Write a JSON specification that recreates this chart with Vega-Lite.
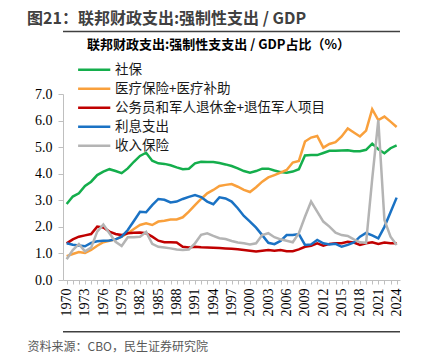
{
  "$schema": "https://vega.github.io/schema/vega-lite/v6.json",
  "width": 337,
  "height": 186,
  "autosize": {"type": "none"},
  "padding": {"left": 63, "top": 94, "right": 33, "bottom": 84},
  "background": "#ffffff",
  "config": {"view": {"stroke": null}},
  "title": {
    "text": "图21：联邦财政支出:强制性支出 / GDP",
    "anchor": "start",
    "frame": "group",
    "dx": -36,
    "offset": 4,
    "font": "Noto Sans CJK SC",
    "fontSize": 16,
    "fontWeight": "bold",
    "color": "#404040"
  },
  "layer": [
    {
      "data": {
        "values": [
          {"year": 1970, "社保": 2.86, "医疗保险+医疗补助": 0.90, "公务员和军人退休金+退伍军人项目": 1.38, "利息支出": 1.38, "收入保险": 0.78},
          {"year": 1971, "社保": 3.14, "医疗保险+医疗补助": 0.98, "公务员和军人退休金+退伍军人项目": 1.53, "利息支出": 1.33, "收入保险": 1.13},
          {"year": 1972, "社保": 3.26, "医疗保险+医疗补助": 1.05, "公务员和军人退休金+退伍军人项目": 1.63, "利息支出": 1.30, "收入保险": 1.35},
          {"year": 1973, "社保": 3.54, "医疗保险+医疗补助": 1.02, "公务员和军人退休金+退伍军人项目": 1.68, "利息支出": 1.27, "收入保险": 1.08},
          {"year": 1974, "社保": 3.70, "医疗保险+医疗补助": 1.13, "公务员和军人退休金+退伍军人项目": 1.73, "利息支出": 1.40, "收入保险": 1.22},
          {"year": 1975, "社保": 3.95, "医疗保险+医疗补助": 1.29, "公务员和军人退休金+退伍军人项目": 2.01, "利息支出": 1.46, "收入保险": 1.82},
          {"year": 1976, "社保": 4.08, "医疗保险+医疗补助": 1.42, "公务员和军人退休金+退伍军人项目": 1.98, "利息支出": 1.48, "收入保险": 2.09},
          {"year": 1977, "社保": 4.17, "医疗保险+医疗补助": 1.48, "公务员和军人退休金+退伍军人项目": 1.82, "利息支出": 1.49, "收入保险": 1.76},
          {"year": 1978, "社保": 4.10, "医疗保险+医疗补助": 1.53, "公务员和军人退休金+退伍军人项目": 1.73, "利息支出": 1.53, "收入保险": 1.44},
          {"year": 1979, "社保": 4.02, "医疗保险+医疗补助": 1.63, "公务员和军人退休金+退伍军人项目": 1.69, "利息支出": 1.63, "收入保险": 1.28},
          {"year": 1980, "社保": 4.20, "医疗保险+医疗补助": 1.76, "公务员和军人退休金+退伍军人项目": 1.76, "利息支出": 1.88, "收入保险": 1.61},
          {"year": 1981, "社保": 4.45, "医疗保险+医疗补助": 1.92, "公务员和军人退休金+退伍军人项目": 1.78, "利息支出": 2.22, "收入保险": 1.61},
          {"year": 1982, "社保": 4.67, "医疗保险+医疗补助": 2.07, "公务员和军人退休金+退伍军人项目": 1.79, "利息支出": 2.57, "收入保险": 1.63},
          {"year": 1983, "社保": 4.79, "医疗保险+医疗补助": 2.13, "公务员和军人退休金+退伍军人项目": 1.76, "利息支出": 2.55, "收入保险": 1.81},
          {"year": 1984, "社保": 4.49, "医疗保险+医疗补助": 2.07, "公务员和军人退休金+退伍军人项目": 1.63, "利息支出": 2.82, "收入保险": 1.36},
          {"year": 1985, "社保": 4.39, "医疗保险+医疗补助": 2.20, "公务员和军人退休金+退伍军人项目": 1.48, "利息支出": 3.05, "收入保险": 1.25},
          {"year": 1986, "社保": 4.37, "医疗保险+医疗补助": 2.23, "公务员和军人退休金+退伍军人项目": 1.42, "利息支出": 3.02, "收入保险": 1.22},
          {"year": 1987, "社保": 4.32, "医疗保险+医疗补助": 2.28, "公务员和军人退休金+退伍军人项目": 1.42, "利息支出": 2.92, "收入保险": 1.19},
          {"year": 1988, "社保": 4.24, "医疗保险+医疗补助": 2.28, "公务员和军人退休金+退伍军人项目": 1.41, "利息支出": 2.95, "收入保险": 1.15},
          {"year": 1989, "社保": 4.17, "医疗保险+医疗补助": 2.36, "公务员和军人退休金+退伍军人项目": 1.25, "利息支出": 3.05, "收入保险": 1.13},
          {"year": 1990, "社保": 4.19, "医疗保险+医疗补助": 2.57, "公务员和军人退休金+退伍军人项目": 1.22, "利息支出": 3.13, "收入保险": 1.15},
          {"year": 1991, "社保": 4.39, "医疗保险+医疗补助": 2.82, "公务员和军人退休金+退伍军人项目": 1.25, "利息支出": 3.20, "收入保险": 1.38},
          {"year": 1992, "社保": 4.45, "医疗保险+医疗补助": 3.05, "公务员和军人退休金+退伍军人项目": 1.23, "利息支出": 3.12, "收入保险": 1.70},
          {"year": 1993, "社保": 4.44, "医疗保险+医疗补助": 3.26, "公务员和军人退休金+退伍军人项目": 1.22, "利息支出": 2.95, "收入保险": 1.76},
          {"year": 1994, "社保": 4.44, "医疗保险+医疗补助": 3.39, "公务员和军人退休金+退伍军人项目": 1.21, "利息支出": 2.85, "收入保险": 1.66},
          {"year": 1995, "社保": 4.40, "医疗保险+医疗补助": 3.54, "公务员和军人退休金+退伍军人项目": 1.20, "利息支出": 3.11, "收入保险": 1.57},
          {"year": 1996, "社保": 4.35, "医疗保险+医疗补助": 3.58, "公务员和军人退休金+退伍军人项目": 1.19, "利息支出": 3.07, "收入保险": 1.54},
          {"year": 1997, "社保": 4.29, "医疗保险+医疗补助": 3.61, "公务员和军人退休金+退伍军人项目": 1.18, "利息支出": 2.95, "收入保险": 1.47},
          {"year": 1998, "社保": 4.20, "医疗保险+医疗补助": 3.51, "公务员和军人退休金+退伍军人项目": 1.16, "利息支出": 2.70, "收入保险": 1.41},
          {"year": 1999, "社保": 4.10, "医疗保险+医疗补助": 3.39, "公务员和军人退休金+退伍军人项目": 1.13, "利息支出": 2.41, "收入保险": 1.38},
          {"year": 2000, "社保": 4.04, "医疗保险+医疗补助": 3.31, "公务员和军人退休金+退伍军人项目": 1.10, "利息支出": 2.20, "收入保险": 1.34},
          {"year": 2001, "社保": 4.10, "医疗保险+医疗补助": 3.49, "公务员和军人退休金+退伍军人项目": 1.07, "利息支出": 1.97, "收入保险": 1.38},
          {"year": 2002, "社保": 4.19, "医疗保险+医疗补助": 3.70, "公务员和军人退休金+退伍军人项目": 1.10, "利息支出": 1.69, "收入保险": 1.69},
          {"year": 2003, "社保": 4.19, "医疗保险+医疗补助": 3.86, "公务员和军人退休金+退伍军人项目": 1.13, "利息支出": 1.40, "收入保险": 1.76},
          {"year": 2004, "社保": 4.12, "医疗保险+医疗补助": 3.95, "公务员和军人退休金+退伍军人项目": 1.10, "利息支出": 1.35, "收入保险": 1.61},
          {"year": 2005, "社保": 4.06, "医疗保险+医疗补助": 4.04, "公务员和军人退休金+退伍军人项目": 1.13, "利息支出": 1.47, "收入保险": 1.53},
          {"year": 2006, "社保": 4.04, "医疗保险+医疗补助": 4.14, "公务员和军人退休金+退伍军人项目": 1.08, "利息支出": 1.69, "收入保险": 1.48},
          {"year": 2007, "社保": 4.08, "医疗保险+医疗补助": 4.42, "公务员和军人退休金+退伍军人项目": 1.08, "利息支出": 1.69, "收入保险": 1.42},
          {"year": 2008, "社保": 4.17, "医疗保险+医疗补助": 4.48, "公务员和军人退休金+退伍军人项目": 1.15, "利息支出": 1.73, "收入保险": 1.76},
          {"year": 2009, "社保": 4.69, "医疗保险+医疗补助": 5.21, "公务员和军人退休金+退伍军人项目": 1.25, "利息支出": 1.32, "收入保险": 2.38},
          {"year": 2010, "社保": 4.70, "医疗保险+医疗补助": 5.36, "公务员和军人退休金+退伍军人项目": 1.29, "利息支出": 1.34, "收入保险": 2.95},
          {"year": 2011, "社保": 4.70, "医疗保险+医疗补助": 5.42, "公务员和军人退休金+退伍军人项目": 1.38, "利息支出": 1.51, "收入保险": 2.57},
          {"year": 2012, "社保": 4.78, "医疗保险+医疗补助": 4.98, "公务员和军人退休金+退伍军人项目": 1.29, "利息支出": 1.38, "收入保险": 2.20},
          {"year": 2013, "社保": 4.86, "医疗保险+医疗补助": 5.12, "公务员和军人退休金+退伍军人项目": 1.36, "利息支出": 1.34, "收入保险": 2.01},
          {"year": 2014, "社保": 4.86, "医疗保险+医疗补助": 5.19, "公务员和军人退休金+退伍军人项目": 1.38, "利息支出": 1.36, "收入保险": 1.78},
          {"year": 2015, "社保": 4.87, "医疗保险+医疗补助": 5.40, "公务员和军人退休金+退伍军人项目": 1.38, "利息支出": 1.25, "收入保险": 1.69},
          {"year": 2016, "社保": 4.88, "医疗保险+医疗补助": 5.70, "公务员和军人退休金+退伍军人项目": 1.44, "利息支出": 1.32, "收入保险": 1.66},
          {"year": 2017, "社保": 4.85, "医疗保险+医疗补助": 5.55, "公务员和军人退休金+退伍军人项目": 1.41, "利息支出": 1.41, "收入保险": 1.53},
          {"year": 2018, "社保": 4.85, "医疗保险+医疗补助": 5.40, "公务员和军人退休金+退伍军人项目": 1.32, "利息支出": 1.63, "收入保险": 1.42},
          {"year": 2019, "社保": 4.90, "医疗保险+医疗补助": 5.62, "公务员和军人退休金+退伍军人项目": 1.38, "利息支出": 1.77, "收入保险": 1.40},
          {"year": 2020, "社保": 5.13, "医疗保险+医疗补助": 6.43, "公务员和军人退休金+退伍军人项目": 1.42, "利息支出": 1.68, "收入保险": 3.80},
          {"year": 2021, "社保": 4.92, "医疗保险+医疗补助": 6.02, "公务员和军人退休金+退伍军人项目": 1.36, "利息支出": 1.57, "收入保险": 6.02},
          {"year": 2022, "社保": 4.77, "医疗保险+医疗补助": 6.15, "公务员和军人退休金+退伍军人项目": 1.41, "利息支出": 2.00, "收入保险": 2.26},
          {"year": 2023, "社保": 4.96, "医疗保险+医疗补助": 5.96, "公务员和军人退休金+退伍军人项目": 1.38, "利息支出": 2.55, "收入保险": 1.63},
          {"year": 2024, "社保": 5.07, "医疗保险+医疗补助": 5.76, "公务员和军人退休金+退伍军人项目": 1.38, "利息支出": 3.10, "收入保险": 1.32}
        ]
      },
      "transform": [
        {"fold": ["社保", "医疗保险+医疗补助", "公务员和军人退休金+退伍军人项目", "利息支出", "收入保险"], "as": ["series", "value"]}
      ],
      "mark": {"type": "line", "strokeWidth": 2.5},
      "encoding": {
        "x": {
          "field": "year",
          "type": "quantitative",
          "scale": {"domain": [1969.4, 2024.55], "nice": false, "zero": false},
          "axis": {
            "orient": "bottom",
            "values": [1970,1971,1972,1973,1974,1975,1976,1977,1978,1979,1980,1981,1982,1983,1984,1985,1986,1987,1988,1989,1990,1991,1992,1993,1994,1995,1996,1997,1998,1999,2000,2001,2002,2003,2004,2005,2006,2007,2008,2009,2010,2011,2012,2013,2014,2015,2016,2017,2018,2019,2020,2021,2022,2023,2024],
            "labelExpr": "(datum.value - 1970) % 3 == 0 ? '' + datum.value : ''",
            "labelAngle": 270,
            "labelAlign": "right",
            "labelBaseline": "middle",
            "labelFont": "Liberation Serif",
            "labelFontSize": 14,
            "labelColor": "#000000",
            "labelPadding": 4,
            "labelOverlap": false,
            "labelFlush": false,
            "tickSize": 4,
            "tickColor": "#bfbfbf",
            "domainColor": "#bfbfbf",
            "grid": false,
            "title": "资料来源：CBO，民生证券研究院",
            "titleX": -36,
            "titleY": 66.5,
            "titleAlign": "left",
            "titleAnchor": "start",
            "titleBaseline": "middle",
            "titleFont": "Noto Sans CJK SC",
            "titleFontSize": 12,
            "titleFontWeight": "normal",
            "titleColor": "#595959"
          }
        },
        "y": {
          "field": "value",
          "type": "quantitative",
          "scale": {"domain": [0, 7], "nice": false, "zero": true},
          "axis": {
            "values": [0, 1, 2, 3, 4, 5, 6, 7],
            "format": ".1f",
            "labelFont": "Liberation Serif",
            "labelFontSize": 14,
            "labelColor": "#000000",
            "labelPadding": 6,
            "tickSize": 5,
            "tickColor": "#bfbfbf",
            "domainColor": "#bfbfbf",
            "grid": false,
            "title": "联邦财政支出:强制性支支出 / GDP占比（%）",
            "titleAngle": 0,
            "titleX": 155,
            "titleY": -50,
            "titleAlign": "center",
            "titleBaseline": "middle",
            "titleFont": "Noto Sans CJK SC",
            "titleFontSize": 13,
            "titleFontWeight": "bold",
            "titleColor": "#000000"
          }
        },
        "color": {
          "field": "series",
          "type": "nominal",
          "scale": {
            "domain": ["社保", "医疗保险+医疗补助", "公务员和军人退休金+退伍军人项目", "利息支出", "收入保险"],
            "range": ["#14ae4c", "#f9a03c", "#c00000", "#1a72c4", "#b4b4b4"]
          },
          "legend": {
            "orient": "none",
            "legendX": 22.7,
            "legendY": -32.7,
            "direction": "vertical",
            "title": null,
            "symbolType": "M-2.3,0H2.3",
            "symbolSize": 196,
            "symbolStrokeWidth": 2.5,
            "labelFont": "Noto Sans CJK SC",
            "labelFontSize": 13.5,
            "labelColor": "#1a1a1a",
            "labelOffset": 12.4,
            "labelLimit": 400,
            "rowPadding": 4,
            "padding": 0
          }
        }
      }
    },
    {
      "data": {"values": [{"edge": "top"}]},
      "mark": {"type": "rule", "clip": false, "color": "#404040", "strokeWidth": 1.5},
      "encoding": {
        "y": {
          "datum": 9.352,
          "type": "quantitative",
          "axis": {
            "values": [0, 1, 2, 3, 4, 5, 6, 7],
            "format": ".1f",
            "labelFont": "Liberation Serif",
            "labelFontSize": 14,
            "labelColor": "#000000",
            "labelPadding": 6,
            "tickSize": 5,
            "tickColor": "#bfbfbf",
            "domainColor": "#bfbfbf",
            "grid": false,
            "title": "联邦财政支出:强制性支支出 / GDP占比（%）",
            "titleAngle": 0,
            "titleX": 155,
            "titleY": -50,
            "titleAlign": "center",
            "titleBaseline": "middle",
            "titleFont": "Noto Sans CJK SC",
            "titleFontSize": 13,
            "titleFontWeight": "bold",
            "titleColor": "#000000"
          }
        }
      }
    },
    {
      "data": {"values": [{"edge": "bottom"}]},
      "mark": {"type": "rule", "clip": false, "color": "#404040", "strokeWidth": 1.5},
      "encoding": {
        "y": {
          "datum": -1.946,
          "type": "quantitative",
          "axis": {
            "values": [0, 1, 2, 3, 4, 5, 6, 7],
            "format": ".1f",
            "labelFont": "Liberation Serif",
            "labelFontSize": 14,
            "labelColor": "#000000",
            "labelPadding": 6,
            "tickSize": 5,
            "tickColor": "#bfbfbf",
            "domainColor": "#bfbfbf",
            "grid": false,
            "title": "联邦财政支出:强制性支支出 / GDP占比（%）",
            "titleAngle": 0,
            "titleX": 155,
            "titleY": -50,
            "titleAlign": "center",
            "titleBaseline": "middle",
            "titleFont": "Noto Sans CJK SC",
            "titleFontSize": 13,
            "titleFontWeight": "bold",
            "titleColor": "#000000"
          }
        }
      }
    }
  ]
}
